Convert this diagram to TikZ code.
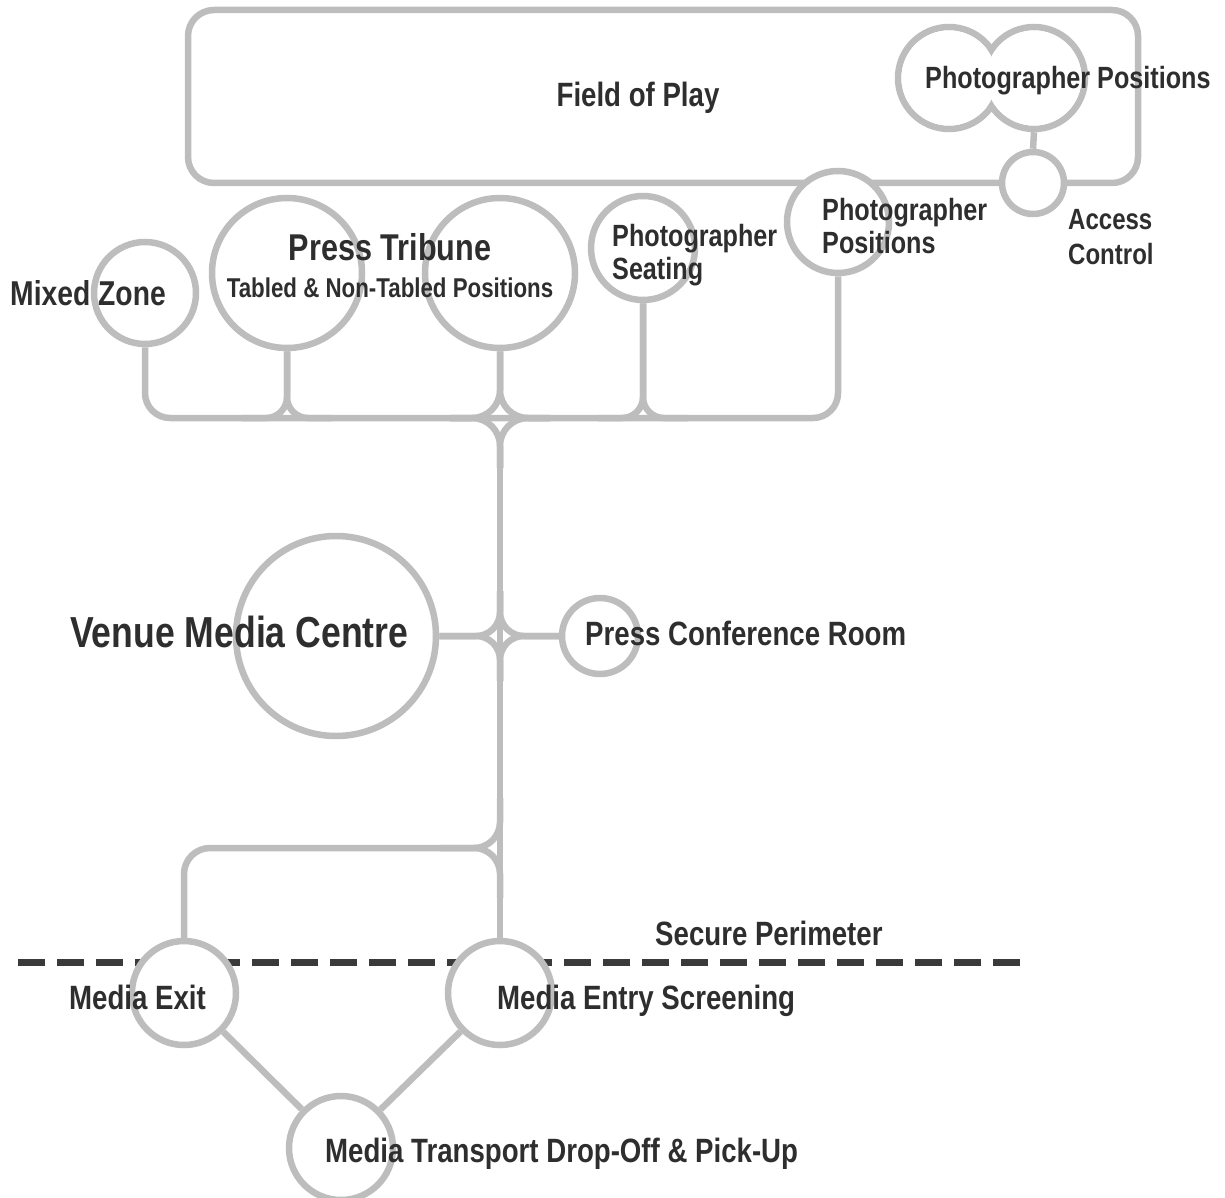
\documentclass[tikz,border=0pt]{standalone}
\usepackage{fontspec}
\usetikzlibrary{calc}
\newfontfamily\condsans{Liberation Sans}[FakeStretch=0.82]
\definecolor{wire}{HTML}{BDBDBD}
\definecolor{ink}{HTML}{2E2E2E}
\definecolor{fence}{HTML}{3A3A3A}
\begin{document}
\begin{tikzpicture}[x=1pt,y=-1pt,
  wirestyle/.style={draw=wire, line width=6.5pt},
  room/.style={circle, draw=wire, line width=6.5pt, fill=white, inner sep=0pt, minimum size=#1},
  fopbox/.style={rectangle, draw=wire, line width=6.5pt, rounded corners=26pt, inner sep=0pt},
  lbl/.style={text=ink, inner sep=0pt, font=\condsans\bfseries\fontsize{33.7}{38}\selectfont},
  lblsm/.style={text=ink, inner sep=0pt, align=left, font=\condsans\bfseries\fontsize{30.7}{33}\selectfont},
  lblbig/.style={text=ink, inner sep=0pt, font=\condsans\bfseries\fontsize{37.3}{42}\selectfont},
  lblhuge/.style={text=ink, inner sep=0pt, font=\condsans\bfseries\fontsize{43.4}{48}\selectfont},
  lblsub/.style={text=ink, inner sep=0pt, font=\condsans\bfseries\fontsize{27.2}{30}\selectfont},
  fenceline/.style={draw=fence, line width=7pt, dash pattern=on 27pt off 12pt}
]
\useasboundingbox (0,0) rectangle (1225,1198);

% Field of Play enclosure
\node[fopbox, minimum width=950pt, minimum height=173pt] (fop) at (663,96.5) {};

% secure perimeter (drawn beneath the rooms it crosses)
\coordinate (perimL) at (18,962);
\coordinate (perimR) at (1020,962);
\draw[fenceline] (perimL) -- (perimR);

% junction points of the circulation network
\coordinate (jtop) at (500,418);
\coordinate (jmid) at (500,636);
\coordinate (jlow) at (500,848);

% rooms
\node[room=102pt] (mz)  at (145,293) {};
\node[room=150pt] (ptl) at (287,273) {};
\node[room=150pt] (ptr) at (500,273) {};
\node[room=104pt] (ps)  at (643,248) {};
\node[room=102pt] (pps) at (838,222) {};
\node[room=102pt] (ppa) at (949,78) {};
\node[room=102pt] (ppb) at (1034,78) {};
\node[room=62pt]  (acc) at (1033,183) {};
\node[room=200pt] (vmc) at (336,636) {};
\node[room=76pt]  (pcr) at (600,636) {};
\node[room=104pt] (mex) at (184,993) {};
\node[room=104pt] (mes) at (500,993) {};
\node[room=104pt] (mtr) at (341,1148) {};

% merge the two photographer circles into one outline
\fill[white] (ppa.center) circle[radius=47.5pt];
\fill[white] (ppb.center) circle[radius=47.5pt];

% horizontal distribution bus
\draw[wirestyle, rounded corners=25pt] (mz.south) -- (mz.south |- jtop) -- (pps.south |- jtop) -- (pps.south);

% press tribune, left
\draw[wirestyle, rounded corners=21pt] (ptl.south) -- (ptl.south |- jtop) -- ++(-45,0);
\draw[wirestyle, rounded corners=21pt] (ptl.south) -- (ptl.south |- jtop) -- ++(45,0);

% press tribune, right: four-way junction
\draw[wirestyle, rounded corners=28pt] (ptr.south) -- (jtop) -- ++(-50,0);
\draw[wirestyle, rounded corners=28pt] (ptr.south) -- (jtop) -- ++(50,0);
\draw[wirestyle, rounded corners=28pt] ($(jtop)+(-50,0)$) -- (jtop) -- ++(0,50);
\draw[wirestyle, rounded corners=28pt] ($(jtop)+(50,0)$) -- (jtop) -- ++(0,50);

% photographer seating
\draw[wirestyle, rounded corners=21pt] (ps.south) -- (ps.south |- jtop) -- ++(-45,0);
\draw[wirestyle, rounded corners=21pt] (ps.south) -- (ps.south |- jtop) -- ++(45,0);

% main trunk
\draw[wirestyle] ($(jtop)+(0,28)$) -- (mes.north);

% venue media centre / press conference room junction
\draw[wirestyle, rounded corners=24pt] (vmc.east) -- (jmid) -- ++(0,-45);
\draw[wirestyle, rounded corners=24pt] (vmc.east) -- (jmid) -- ++(0,45);
\draw[wirestyle, rounded corners=24pt] (pcr.west) -- (jmid) -- ++(0,-45);
\draw[wirestyle, rounded corners=24pt] (pcr.west) -- (jmid) -- ++(0,45);

% branch to media exit
\draw[wirestyle, rounded corners=26pt] ($(jlow)+(0,-50)$) -- (jlow) -- (mex.north |- jlow) -- (mex.north);
\draw[wirestyle, rounded corners=26pt] ($(jlow)+(0,50)$) -- (jlow) -- ++(-60,0);

% photographer positions to access control
\draw[wirestyle] (ppb.south) -- (acc.north);

% transport links
\draw[wirestyle] (mex) -- (mtr);
\draw[wirestyle] (mes) -- (mtr);

% labels
\node[lbl, anchor=base] (tfop) at (638,107) {Field of Play};
\node[lblsm, anchor=base west] (tppa) at (925,89) {Photographer Positions};
\node[lblsm, anchor=north west] (tpps) at (822,198) {Photographer\\Positions};
\node[lblsm, anchor=north west, font=\condsans\bfseries\fontsize{29.3}{35}\selectfont] (tacc) at (1068,209) {Access\\Control};
\node[lblsm, anchor=north west] (tps) at (612,224) {Photographer\\Seating};
\node[lbl, anchor=base west, font=\condsans\bfseries\fontsize{34.5}{38}\selectfont] (tmz) at (10,305) {Mixed Zone};
\node[lblbig, anchor=base] (tpt) at (390,261) {Press Tribune};
\node[lblsub, anchor=base] (tpts) at (390,297) {Tabled \& Non-Tabled Positions};
\node[lblhuge, anchor=base west] (tvmc) at (70,647) {Venue Media Centre};
\node[lbl, anchor=base west] (tpcr) at (585,645) {Press Conference Room};
\node[lbl, anchor=base west] (tsp) at (655,945) {Secure Perimeter};
\node[lbl, anchor=base west] (tmex) at (69,1009) {Media Exit};
\node[lbl, anchor=base west] (tmes) at (497,1009) {Media Entry Screening};
\node[lbl, anchor=base west] (tmtr) at (325,1162) {Media Transport Drop-Off \& Pick-Up};
\end{tikzpicture}
\end{document}
